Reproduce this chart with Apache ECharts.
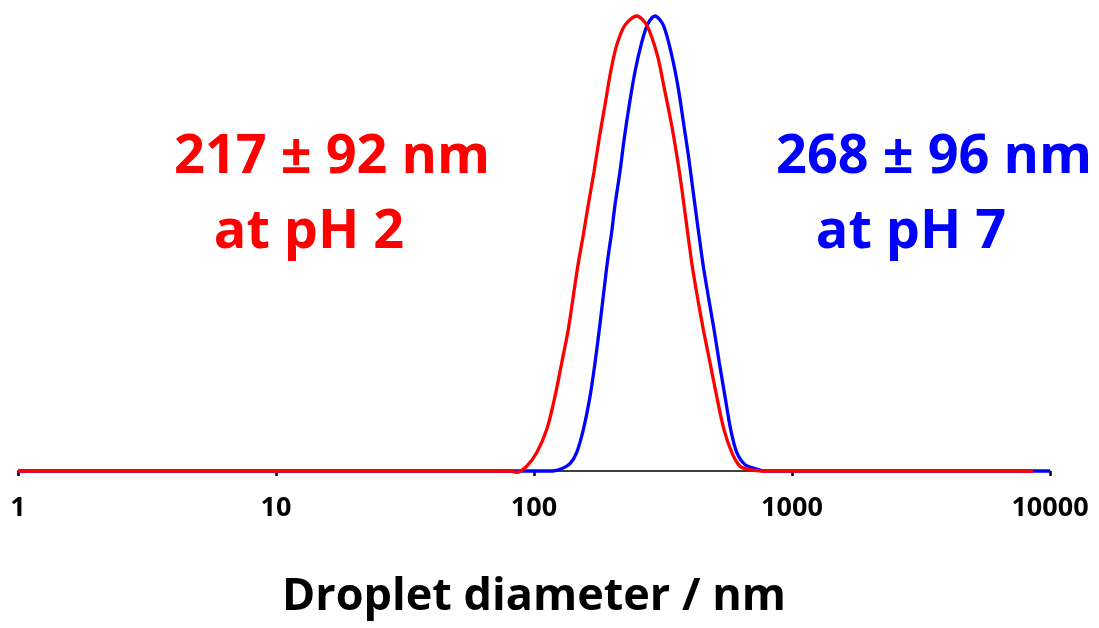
<!DOCTYPE html>
<html>
<head>
<meta charset="utf-8">
<script src="https://cdn.jsdelivr.net/npm/echarts@6/dist/echarts.min.js"></script>
<style>
  html, body { margin: 0; padding: 0; background: #fff; }
  #chart { width: 1099px; height: 628px; }
</style>
</head>
<body>
<div id="chart"></div>
<script>
// droplet size distribution at pH 2 (red), diameter in nm / relative intensity
const redSize = [1, 10, 50, 80, 85.7, 93.7, 102.4, 112.0, 120.6, 128.1, 135.8, 142.0, 148.5, 155.3, 162.3, 170.9, 179.1, 188.5, 198.3, 209.2, 225.3, 250.1, 273.4, 300.6, 319.9, 339.6, 357.4, 373.7, 408.5, 429.5, 453.2, 481.1, 510.7, 545.0, 584.0, 628.6, 687.3, 760, 1000, 8600];
const redValue = [0, 0, 0, 0, -0.3, 1.05, 4.0, 9.1, 16.4, 23.8, 31.1, 38.4, 45.7, 51.9, 58.5, 65.8, 73.2, 80.5, 87.8, 93.6, 98.0, 100, 98.0, 91.4, 84.1, 76.8, 69.5, 62.2, 45.8, 38.4, 31.1, 23.8, 16.4, 9.1, 4.1, 1.05, 0.3, 0, 0, 0];

// droplet size distribution at pH 7 (blue)
const blueSize = [1, 10, 100, 118, 128, 137.9, 146.4, 155.3, 164.9, 172.4, 179.1, 185.6, 192.4, 200.1, 206.1, 215.4, 223.9, 234.1, 246.4, 259.9, 274.9, 294.4, 317.1, 341.8, 362.5, 379.1, 396.3, 412.2, 450.8, 473.8, 498.6, 522.7, 549.9, 578.7, 610.6, 657.4, 718.9, 785.7, 1000, 10000];
const blueValue = [0, 0, 0, 0, 0.5, 1.6, 4.1, 9.1, 16.4, 23.8, 31.1, 38.4, 45.8, 52.6, 58.5, 65.8, 73.2, 80.5, 87.8, 93.6, 98.0, 100, 98.0, 91.4, 84.1, 76.8, 69.5, 62.2, 45.8, 38.4, 31.1, 23.8, 16.4, 9.1, 4.1, 1.4, 0.55, 0, 0, 0];

const redLabel = ['217 ± 92 nm', 'at pH 2'];
const blueLabel = ['268 ± 96 nm', 'at pH 7'];

const pair = (xs, ys) => xs.map((x, i) => [x, ys[i]]);

function label(text, x, y, color) {
  return {
    type: 'text', x: x, y: y,
    style: { text: text, align: 'center', verticalAlign: 'middle', fill: color, font: 'bold 54px "Open Sans"' }
  };
}

let myChart = echarts.init(document.getElementById('chart'));
let option = {
  animation: false,
  grid: { left: 18, right: 49, top: 16, bottom: 157 },
  xAxis: {
    type: 'log',
    logBase: 10,
    min: 1,
    max: 10000,
    name: 'Droplet diameter / nm',
    nameLocation: 'middle',
    nameGap: 104,
    nameTextStyle: { fontFamily: 'Open Sans', fontWeight: 'bold', fontSize: 45, color: '#000' },
    axisLine: { lineStyle: { color: '#000', width: 1.5 } },
    axisTick: { length: 5, lineStyle: { color: '#000', width: 2.5 } },
    minorTick: { show: false },
    splitLine: { show: false },
    axisLabel: {
      margin: 24, fontFamily: 'Open Sans', fontWeight: 'bold', fontSize: 27, color: '#000',
      formatter: v => String(Math.round(v))
    }
  },
  yAxis: {
    type: 'value',
    min: 0,
    max: 100,
    show: false
  },
  graphic: [
    label(redLabel[0], 332, 158, '#ff0000'),
    label(redLabel[1], 309, 233, '#ff0000'),
    label(blueLabel[0], 934, 158, '#0000ff'),
    label(blueLabel[1], 911, 233, '#0000ff')
  ],
  series: [
    {
      type: 'line',
      data: pair(blueSize, blueValue),
      smooth: 0.3,
      showSymbol: false,
      clip: false,
      lineStyle: { color: '#0000ff', width: 3.3 }
    },
    {
      type: 'line',
      data: pair(redSize, redValue),
      smooth: 0.3,
      showSymbol: false,
      clip: false,
      lineStyle: { color: '#ff0000', width: 3.3 }
    }
  ]
};
myChart.setOption(option);
</script>
</body>
</html>
